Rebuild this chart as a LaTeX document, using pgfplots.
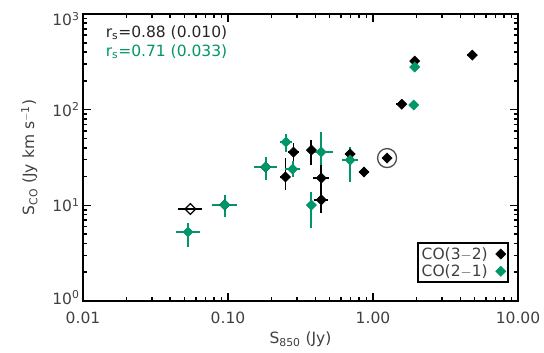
\documentclass[border=0pt]{standalone}
\usepackage{pgfplots}
\pgfplotsset{compat=1.18}
\usepackage{fontspec}
\setmainfont{DejaVu Sans}
\definecolor{cogreen}{RGB}{0,150,105}
\begin{document}
\begin{tikzpicture}
\useasboundingbox (-83bp,-52bp) rectangle (461bp,301bp);
\begin{axis}[
  at={(0,0)}, anchor=south west,
  scale only axis, width=435bp, height=287bp,
  xmode=log, ymode=log,
  xmin=0.01, xmax=10, ymin=1, ymax=1000,
  xtick={0.01,0.1,1,10}, xticklabels={0.01,0.10,1.00,10.00},
  ytick={1,10,100,1000}, yticklabels={\smash{\raisebox{-3bp}{10\textsuperscript{0}}},10\textsuperscript{1},10\textsuperscript{2},\smash{\raisebox{-12bp}{10\textsuperscript{3}}}},
  font=\fontsize{15.5bp}{18bp}\selectfont,
  tick label style={font=\fontsize{15.5bp}{18bp}\selectfont, text=black!75},
  label style={font=\fontsize{15.5bp}{18bp}\selectfont, text=black!75},
  xticklabel style={yshift=-7bp},
  axis line style={line width=2bp},
  every tick/.style={black, line width=1.6bp},
  major tick length=8bp, minor tick length=4bp,
  tick align=inside,
  xlabel={S\textsubscript{850} (Jy)},
  ylabel={S\textsubscript{CO} (Jy km s\textsuperscript{$-$1})},
  xlabel style={yshift=-2bp},
  ylabel style={yshift=8bp},
  legend style={at={(0.979,0.063)}, anchor=south east, draw=black, line width=2bp,
    font=\fontsize{15.5bp}{17bp}\selectfont, text=black!75, inner sep=2bp, row sep=0bp,
    /tikz/every odd column/.append style={column sep=6bp}},
  legend plot pos=right,
  legend cell align=left,
  error bars/error bar style={line width=1.8bp},
  error bars/error mark=none,
]
% CO(3-2), black
\addplot[only marks, black, mark=square*, mark size=3.6bp, mark options={rotate=45, fill=black, draw=black, line width=0.5bp},
  error bars/.cd, x dir=both, x explicit, y dir=both, y explicit]
coordinates {
 (0.095,10.1)
 (0.182,25.1)
 (0.283,36) += (0.028,8.8) -= (0.025,7.7)
 (0.249,19.8) += (0.020,11.4) -= (0.019,5.3)
 (0.376,37.8) += (0.024,10.3) -= (0.023,11.4)
 (0.44,19.3) += (0.059,7.1) -= (0.052,11.0)
 (0.44,11.4) += (0.051,1.15) -= (0.046,1.04)
 (0.695,34.4) += (0.06,3) -= (0.05,3)
 (0.867,22.3) += (0.071,2.9) -= (0.066,2.5)
 (1.25,31.2) += (0.09,3.3) -= (0.08,3)
 (1.58,114) += (0.09,5) -= (0.13,5)
 (1.94,322) += (0.1,20) -= (0.1,20)
 (4.84,372) += (0.40,20) -= (0.37,20)
};
\addlegendentry{CO(3$-$2)}
% CO(2-1), green
\addplot[only marks, cogreen, mark=square*, mark size=3.6bp, mark options={rotate=45, fill=cogreen, draw=cogreen, line width=0.5bp},
  error bars/.cd, x dir=both, x explicit, y dir=both, y explicit]
coordinates {
 (0.053,5.26) += (0.011,1.27) -= (0.009,1.59)
 (0.095,10.1) += (0.0207,2.7) -= (0.017,2.55)
 (0.182,25.1) += (0.036,6.9) -= (0.030,6.7)
 (0.251,45.9) += (0.025,9.7) -= (0.023,9.8)
 (0.279,23.9) += (0.037,5.1) -= (0.033,4.1)
 (0.44,36.1) += (0.092,22.2) -= (0.076,9.7)
 (0.376,10.06) += (0.02,3.7) -= (0.02,4.3)
 (0.695,29.7) += (0.093,11) -= (0.082,12.2)
 (1.91,112) += (0.1,8) -= (0.1,8)
 (1.94,279) += (0.1,20) -= (0.1,20)
};
\addlegendentry{CO(2$-$1)}
% open black point
\addplot[only marks, black, mark=square, mark size=3.8bp, mark options={rotate=45, fill=white, draw=black, line width=1.2bp}, forget plot,
  error bars/.cd, x dir=both, x explicit]
coordinates { (0.055,9.15) += (0.0114,0) -= (0.0095,0) };
% circled point
\addplot[only marks, black, mark=o, mark size=9.5bp, mark options={line width=1.3bp, draw=black!70}, forget plot]
coordinates { (1.25,31.2) };
\node[anchor=west, inner sep=0pt, text=black!85] at (rel axis cs:0.052,0.934) {r\textsubscript{s}=0.88 (0.010)};
\node[anchor=west, inner sep=0pt, text=cogreen] at (rel axis cs:0.052,0.868) {r\textsubscript{s}=0.71 (0.033)};
\end{axis}
\end{tikzpicture}
\end{document}
